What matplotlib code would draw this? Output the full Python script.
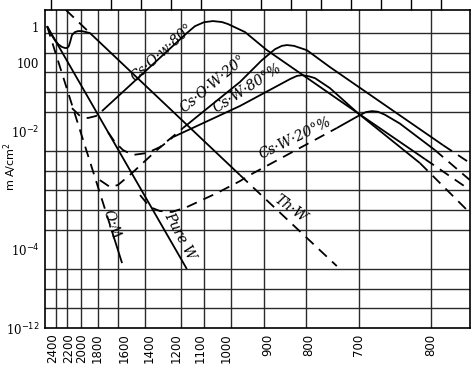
import numpy as np
import matplotlib.pyplot as plt
import matplotlib.transforms as mtransforms

# x axis is 1000/T, labelled with the temperature in K
temps = [2400, 2200, 2000, 1800, 1600, 1400, 1200, 1100, 1000, 900, 800, 700, 600]
temp_labels = ["2400", "2200", "2000", "1800", "1600", "1400", "1200", "1100",
               "1000", "900", "800", "700", "800"]
# hand lettering sits a little off the grid lines (points)
label_dx = [-2.4, 0.6, 0.7, 0, 4.3, 2.9, -3.6, -2.2, -3.6, 2.2, 2.2, -0.7, 0]

# y axis: grid divisions, labels as printed on the sheet
y_ticks = [15.3, 13.5, 10, 4, 0]
y_labels = ["1", "100", "10$^{-2}$", "10$^{-4}$", "10$^{-12}$"]

# curves (u = 1000/T, v = grid units)
pure_w_u = [0.387, 0.853]
pure_w_v = [15.35, 3.0]

wo_dash_u = [0.387, 0.603]
wo_dash_v = [15.35, 4.94]
wo_u = [0.603, 0.637]
wo_v = [4.94, 3.3]

thw_u = [0.387, 0.40, 0.413, 0.425, 0.437, 0.447, 0.453, 0.459, 0.464, 0.47, 0.48, 0.49, 0.503, 0.53, 1.03]
thw_v = [15.35, 14.95, 14.64, 14.42, 14.29, 14.24, 14.24, 14.32, 14.55, 14.90, 15.05, 15.10, 15.10, 15.00, 7.78]
thw_dash_u = [1.03, 1.353]
thw_dash_v = [7.78, 3.15]
thw_top_u = [0.45, 0.53]
thw_top_v = [16.17, 15.0]

cow80_dash_u = [0.47, 0.497, 0.523, 0.55, 0.57]
cow80_dash_v = [11.18, 10.78, 10.68, 10.78, 11.03]
cow80_u = [0.57, 0.853, 0.88, 0.91, 0.94, 0.97, 0.99, 1.047, 1.12, 1.423, 1.647]
cow80_v = [11.03, 15.0, 15.35, 15.55, 15.61, 15.56, 15.46, 15.05, 14.13, 10.93, 8.59]
cow80_tail_u = [1.647, 1.797]
cow80_tail_v = [8.59, 7.02]

cow20_dash_u = [0.59, 0.613, 0.64, 0.673, 0.72, 0.763, 0.82, 0.84]
cow20_dash_v = [9.96, 9.46, 9.05, 8.80, 8.90, 9.20, 9.91, 10.17]
cow20_u = [0.84, 1.03, 1.103, 1.147, 1.17, 1.187, 1.21, 1.253, 1.33, 1.707]
cow20_v = [10.17, 12.51, 13.62, 14.18, 14.35, 14.39, 14.35, 14.13, 13.27, 9.30]
cow20_tail_u = [1.707, 1.797]
cow20_tail_v = [9.30, 8.39]

csw80_dash_u = [0.563, 0.597, 0.623, 0.663, 0.753, 0.807]
csw80_dash_v = [7.52, 7.17, 7.27, 7.78, 9.05, 9.71]
csw80_u = [0.807, 1.03, 1.197, 1.22, 1.237, 1.26, 1.28, 1.33, 1.423, 1.63]
csw80_v = [9.71, 11.29, 12.66, 12.82, 12.86, 12.80, 12.71, 12.20, 10.93, 8.39]
csw80_tail_u = [1.63, 1.797]
csw80_tail_v = [8.39, 5.85]

csw20_dash_u = [0.697, 0.73, 0.763, 0.803, 0.853, 0.953, 1.03, 1.063, 1.353]
csw20_dash_v = [6.76, 6.15, 5.95, 5.90, 6.15, 6.86, 7.47, 7.78, 10.17]
csw20_u = [1.353, 1.43, 1.45, 1.47, 1.49, 1.513, 1.563, 1.68]
csw20_v = [10.17, 10.83, 10.98, 11.03, 11.0, 10.85, 10.40, 9.05]
csw20_tail_u = [1.68, 1.797]
csw20_tail_v = [9.05, 7.52]

# curve labels: text, u, v, rotation
labels = [
    ("Cs·O·w·80°", 0.77, 14.0, 42),
    ("Cs·O·W·20°", 0.94, 12.4, 40),
    ("Cs·W·80°%", 1.053, 12.2, 33),
    ("Cs·W·20°%", 1.213, 9.65, 26),
    ("Th·W", 1.2, 6.05, -36),
    ("Pure W", 0.83, 4.7, -62),
    ("W·O", 0.617, 5.4, 108),
]

fig = plt.figure(figsize=(4.73, 3.71), dpi=100)
ax = fig.add_axes([0.0951, 0.1159, 0.8985, 0.857])

xt = [1000.0 / t for t in temps]
ax.set_xlim(0.38, 1.797)
ax.set_ylim(0, 16.17)

# grid positions as ticks, lettering drawn separately
ax.set_xticks(xt)
ax.set_xticklabels([])
blend = mtransforms.blended_transform_factory(ax.transData, ax.transAxes)
for x, lab, dx in zip(xt, temp_labels, label_dx):
    tr = mtransforms.offset_copy(blend, fig=fig, x=dx, y=-4, units="points")
    ax.text(x, 0, lab, transform=tr, rotation=90, fontsize=8.5, ha="center", va="top")

ax.set_xticks(np.arange(0.4, 1.75, 0.1), minor=True)
ax.set_yticks(np.arange(0, 16), minor=True)
ax.set_yticks(y_ticks)
ax.set_yticklabels(y_labels, fontsize=8.5, family="DejaVu Serif")
ax.tick_params(which="major", length=0, pad=4)
ax.tick_params(axis="x", which="minor", top=True, bottom=False, direction="out", length=9, width=1)
ax.tick_params(axis="y", which="minor", length=0)

ax.grid(axis="x", which="major", color="#2a2a2a", lw=1.0)
ax.grid(axis="y", which="minor", color="#2a2a2a", lw=1.0)
for s in ax.spines.values():
    s.set_linewidth(1.2)

solid = dict(color="black", lw=1.3, solid_capstyle="butt")
dash = dict(color="black", lw=1.3, ls=(0, (6, 4)))

ax.plot(pure_w_u, pure_w_v, **solid)
ax.plot(wo_dash_u, wo_dash_v, **dash)
ax.plot(wo_u, wo_v, **solid)
ax.plot(thw_u, thw_v, **solid)
ax.plot(thw_dash_u, thw_dash_v, **dash)
ax.plot(thw_top_u, thw_top_v, **dash)
ax.plot(cow80_dash_u, cow80_dash_v, **dash)
ax.plot(cow80_u, cow80_v, **solid)
ax.plot(cow80_tail_u, cow80_tail_v, **dash)
ax.plot(cow20_dash_u, cow20_dash_v, **dash)
ax.plot(cow20_u, cow20_v, **solid)
ax.plot(cow20_tail_u, cow20_tail_v, **dash)
ax.plot(csw80_dash_u, csw80_dash_v, **dash)
ax.plot(csw80_u, csw80_v, **solid)
ax.plot(csw80_tail_u, csw80_tail_v, **dash)
ax.plot(csw20_dash_u, csw20_dash_v, **dash)
ax.plot(csw20_u, csw20_v, **solid)
ax.plot(csw20_tail_u, csw20_tail_v, **dash)

for txt, u, v, rot in labels:
    ax.text(u, v, txt, rotation=rot, fontsize=10, style="italic", family="DejaVu Serif",
            ha="center", va="center", rotation_mode="anchor")

fig.text(0.022, 0.55, "m A/cm$^2$", rotation=90, fontsize=8, ha="center", va="center")

fig.savefig("out.png", dpi=100)
